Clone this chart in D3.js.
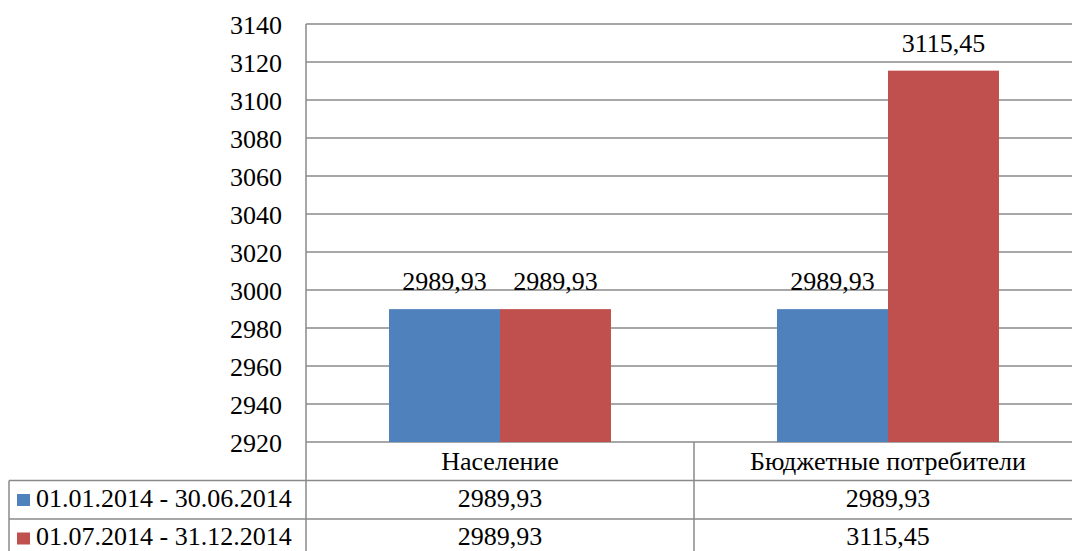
<!DOCTYPE html>
<html>
<head>
<meta charset="utf-8">
<script src="https://d3js.org/d3.v7.min.js"></script>
<style>
  body { margin: 0; background: #fff; }
</style>
</head>
<body>
<script>
// data
const categories = ['Население', 'Бюджетные потребители'];
const seriesNames = ['01.01.2014 - 30.06.2014', '01.07.2014 - 31.12.2014'];
const firstHalf = [2989.93, 2989.93];
const secondHalf = [2989.93, 3115.45];
const seriesColors = ['#4f81bd', '#c0504d'];
const yTicks = [2920, 2940, 2960, 2980, 3000, 3020, 3040, 3060, 3080, 3100, 3120, 3140];

const w = 1072, h = 551;
const plotLeft = 306, plotRight = 1082, plotTop = 24, plotBottom = 442;
const rowH = 38.5;
const tableLeft = 9;
const gridCol = '#8a8a8a';
const serif = "'Liberation Serif', 'DejaVu Serif'";
const fmt = v => d3.format('.2f')(v).replace('.', ',');

const series = [firstHalf, secondHalf];

const svg = d3.select('body').append('svg')
  .attr('width', w)
  .attr('height', h)
  .style('font-family', serif);

const x = d3.scaleBand()
  .domain(categories)
  .range([plotLeft, plotRight]);

const xSub = d3.scaleBand()
  .domain(d3.range(series.length))
  .range([0, x.bandwidth()])
  .paddingOuter(0.748);

const y = d3.scaleLinear()
  .domain([2920, 3140])
  .range([plotBottom, plotTop]);

// gridlines
svg.append('g')
  .selectAll('line')
  .data(yTicks)
  .join('line')
  .attr('x1', plotLeft)
  .attr('x2', w)
  .attr('y1', d => y(d))
  .attr('y2', d => y(d))
  .attr('stroke', gridCol)
  .attr('stroke-width', 1.5);

// y axis
const yAxis = d3.axisLeft(y).tickValues(yTicks).tickSize(0).tickPadding(24).tickFormat(d3.format('d'));
const yg = svg.append('g')
  .attr('transform', `translate(${plotLeft},0)`)
  .call(yAxis)
  .attr('font-family', null);
yg.select('.domain').remove();
yg.selectAll('text')
  .attr('font-size', 26)
  .attr('fill', '#000')
  .attr('dy', '0.35em');

// bars
series.forEach((vals, s) => {
  svg.append('g')
    .selectAll('rect')
    .data(vals)
    .join('rect')
    .attr('x', (d, i) => x(categories[i]) + xSub(s))
    .attr('width', xSub.bandwidth())
    .attr('y', d => y(d))
    .attr('height', d => y(2920) - y(d))
    .attr('fill', seriesColors[s]);

  svg.append('g')
    .selectAll('text')
    .data(vals)
    .join('text')
    .attr('x', (d, i) => x(categories[i]) + xSub(s) + xSub.bandwidth() / 2)
    .attr('y', d => y(d) - 19)
    .attr('text-anchor', 'middle')
    .attr('font-size', 26)
    .text(d => fmt(d));
});

// data table
const tbl = svg.append('g').attr('fill', 'none').attr('stroke', gridCol).attr('stroke-width', 1.5);
tbl.append('line').attr('x1', tableLeft).attr('x2', w)
  .attr('y1', plotBottom + rowH).attr('y2', plotBottom + rowH);
tbl.append('line').attr('x1', tableLeft).attr('x2', w)
  .attr('y1', plotBottom + rowH * 2).attr('y2', plotBottom + rowH * 2);
tbl.append('line').attr('x1', plotLeft).attr('x2', plotLeft).attr('y1', plotTop).attr('y2', h);
tbl.append('line').attr('x1', tableLeft).attr('x2', tableLeft).attr('y1', plotBottom + rowH).attr('y2', h);
tbl.append('line').attr('x1', x(categories[1])).attr('x2', x(categories[1])).attr('y1', plotBottom).attr('y2', h);

// header categories
svg.append('g')
  .selectAll('text')
  .data(categories)
  .join('text')
  .attr('x', d => x(d) + x.bandwidth() / 2)
  .attr('y', plotBottom + 27.5)
  .attr('text-anchor', 'middle')
  .attr('font-size', 26)
  .text(d => d);

// rows
series.forEach((vals, s) => {
  const rowY = plotBottom + rowH * (s + 1);
  svg.append('rect')
    .attr('x', 17)
    .attr('y', rowY + 13.5)
    .attr('width', 13)
    .attr('height', 12)
    .attr('fill', seriesColors[s]);
  svg.append('text')
    .attr('x', 36)
    .attr('y', rowY + 26)
    .attr('font-size', 26)
    .text(seriesNames[s]);
  svg.append('g')
    .selectAll('text')
    .data(vals)
    .join('text')
    .attr('x', (d, i) => x(categories[i]) + x.bandwidth() / 2)
    .attr('y', rowY + 26)
    .attr('text-anchor', 'middle')
    .attr('font-size', 26)
    .text(d => fmt(d));
});
</script>
</body>
</html>
